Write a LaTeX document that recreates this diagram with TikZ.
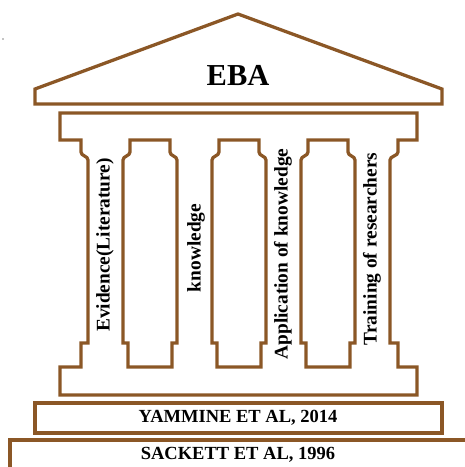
\documentclass[tikz,border=0pt]{standalone}
\usepackage{fontspec}
\setmainfont{Liberation Serif}
\definecolor{pillar}{RGB}{139,87,38}
\tikzset{
	outline/.style={pillar, line width=2.8pt, line join=miter},
	pillartext/.style={font=\fontsize{16.5}{18}\selectfont\bfseries, rotate=90, inner sep=0pt},
	basetext/.style={font=\fontsize{15.8}{17}\selectfont\bfseries, inner sep=0pt}
}
\begin{document}
\begin{tikzpicture}[x=0.03cm, y=-0.03cm]
	\useasboundingbox (0,0) rectangle (464,467);
	\fill (3,39) circle (0.6);

	% roof
	\draw [outline] (35,104) -- (35,89) -- (238,14) -- (442,89) -- (442,104) -- cycle;
	\node (eba) at (238,75) {\fontsize{26}{30}\selectfont\bfseries EBA};

	% beam, outer columns and plinth
	\draw [outline] (60,113) -- (417,113) -- (417,140) -- (398,140) -- (398,152)
		.. controls (398,156) and (390,156) .. (390,160) -- (390,343) -- (398,343)
		-- (398,367) -- (417,367) -- (417,395) -- (60,395) -- (60,367) -- (81,367)
		-- (81,343) -- (88,343) -- (88,160) .. controls (88,156) and (81,156) .. (81,152)
		-- (81,140) -- (60,140) -- cycle;

	% gaps between the columns
	\foreach \k in {0,1,2} {
		\pgfmathsetmacro{\L}{123+89*\k}
		\pgfmathsetmacro{\R}{177+89*\k}
		\draw [outline] (\L,343) -- (\L,160) .. controls (\L,156) and (\L+7,156) .. (\L+7,152)
			-- (\L+7,140) -- (\R-7,140) -- (\R-7,152) .. controls (\R-7,156) and (\R,156) .. (\R,160)
			-- (\R,343) -- (\R-5,343) -- (\R-5,367) -- (\L+5,367) -- (\L+5,343) -- cycle;
	}

	\node [pillartext] (evidence) at (105,245) {Evidence(Literature)};
	\node [pillartext] (knowledge) at (196,248) {knowledge};
	\node [pillartext] (application) at (283,254) {Application of knowledge};
	\node [pillartext] (training) at (372,249) {Training of researchers};

	% steps
	\draw [outline] (35,403) rectangle (442,433);
	\node [basetext] (yammine) at (238,418) {YAMMINE ET AL, 2014};
	\draw [outline] (10,440) rectangle (475,480);
	\node [basetext] (sackett) at (238,455) {SACKETT ET AL, 1996};
\end{tikzpicture}
\end{document}
